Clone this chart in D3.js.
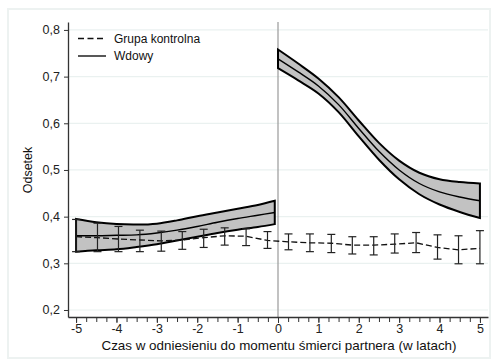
<!DOCTYPE html>
<html>
<head>
<meta charset="utf-8">
<script src="https://cdn.jsdelivr.net/npm/d3@7"></script>
<style>
  html, body { margin: 0; padding: 0; background: #fff; }
  svg { display: block; font-family: "Liberation Sans", Arial, sans-serif; }
</style>
</head>
<body>
<svg id="chart" width="493" height="361"></svg>
<script>
// Widows: smoothed share with confidence band, before and after the partner's death
const widowBeforeT   = [-5, -4.5, -4, -3.5, -3, -2.5, -2, -1.5, -1, -0.5, -0.08];
const widowBeforeMid = [0.359, 0.359, 0.360, 0.361, 0.365, 0.371, 0.379, 0.388, 0.396, 0.403, 0.409];
const widowBeforeHi  = [0.395, 0.388, 0.384, 0.383, 0.385, 0.392, 0.401, 0.409, 0.417, 0.425, 0.434];
const widowBeforeLo  = [0.325, 0.328, 0.330, 0.335, 0.341, 0.349, 0.357, 0.365, 0.372, 0.378, 0.384];

const widowAfterT   = [0, 0.5, 1, 1.5, 2, 2.5, 3, 3.5, 4, 4.5, 5];
const widowAfterMid = [0.738, 0.710, 0.680, 0.640, 0.589, 0.540, 0.500, 0.471, 0.453, 0.442, 0.434];
const widowAfterHi  = [0.758, 0.728, 0.696, 0.656, 0.606, 0.558, 0.520, 0.494, 0.480, 0.474, 0.471];
const widowAfterLo  = [0.718, 0.692, 0.664, 0.624, 0.572, 0.522, 0.480, 0.448, 0.426, 0.410, 0.397];

// Control group: point estimates with 95% intervals
const controlT   = [-5, -4.47, -3.95, -3.42, -2.89, -2.37, -1.84, -1.32, -0.79, -0.26,
                    0.26, 0.79, 1.32, 1.84, 2.37, 2.89, 3.42, 3.95, 4.47, 5];
const controlMid = [0.357, 0.355, 0.352, 0.350, 0.348, 0.350, 0.355, 0.359, 0.358, 0.349,
                    0.346, 0.344, 0.343, 0.339, 0.339, 0.341, 0.344, 0.334, 0.329, 0.332];
const controlHi  = [0.394, 0.386, 0.379, 0.371, 0.369, 0.368, 0.373, 0.376, 0.374, 0.368,
                    0.363, 0.363, 0.362, 0.357, 0.357, 0.363, 0.366, 0.361, 0.359, 0.370];
const controlLo  = [0.325, 0.325, 0.325, 0.325, 0.326, 0.330, 0.334, 0.339, 0.338, 0.332,
                    0.329, 0.325, 0.323, 0.320, 0.318, 0.322, 0.323, 0.309, 0.299, 0.299];

const yTicks = [0.2, 0.3, 0.4, 0.5, 0.6, 0.7, 0.8];
const xTicks = [-5, -4, -3, -2, -1, 0, 1, 2, 3, 4, 5];
const xMinorTicks = d3.range(-5, 5.001, 0.25);
const legendLabels = ["Grupa kontrolna", "Wdowy"];
const xTitle = "Czas w odniesieniu do momentu śmierci partnera (w latach)";
const yTitle = "Odsetek";

const svg = d3.select("#chart");

// outer frame
svg.append("rect").attr("x", 8).attr("y", 9).attr("width", 482).attr("height", 349)
  .attr("fill", "#fff").attr("stroke", "#edf2f1").attr("stroke-width", 2);

const x = d3.scaleLinear().domain([-5.2, 5.2]).range([68, 488]);
const y = d3.scaleLinear().domain([0.185, 0.817]).range([317, 22]);

// gridlines
svg.append("g").selectAll("line").data(yTicks).join("line")
  .attr("x1", 68).attr("x2", 488)
  .attr("y1", d => y(d)).attr("y2", d => y(d))
  .attr("stroke", "#eaf1f0").attr("stroke-width", 1.2);

// vertical reference line at the time of death
svg.append("line")
  .attr("x1", x(0)).attr("x2", x(0)).attr("y1", 22).attr("y2", 317)
  .attr("stroke", "#999").attr("stroke-width", 1.2);

// widow bands
function drawBand(t, lo, hi, mid) {
  const pts = t.map((d, i) => ({ t: d, lo: lo[i], hi: hi[i], mid: mid[i] }));
  const curve = d3.curveCatmullRom.alpha(0.5);
  const area = d3.area().x(d => x(d.t)).y0(d => y(d.lo)).y1(d => y(d.hi)).curve(curve);
  svg.append("path").datum(pts).attr("d", area)
    .attr("fill", "#c2c2c2").attr("stroke", "#000").attr("stroke-width", 2)
    .attr("stroke-linejoin", "miter");
  const line = d3.line().x(d => x(d.t)).y(d => y(d.mid)).curve(curve);
  svg.append("path").datum(pts).attr("d", line)
    .attr("fill", "none").attr("stroke", "#000").attr("stroke-width", 1.4);
}
drawBand(widowBeforeT, widowBeforeLo, widowBeforeHi, widowBeforeMid);
drawBand(widowAfterT, widowAfterLo, widowAfterHi, widowAfterMid);

// control group: dashed line and error bars
const ctrl = controlT.map((d, i) => ({ t: d, mid: controlMid[i], lo: controlLo[i], hi: controlHi[i] }));
svg.append("path").datum(ctrl)
  .attr("d", d3.line().x(d => x(d.t)).y(d => y(d.mid)))
  .attr("fill", "none").attr("stroke", "#111").attr("stroke-width", 1.3)
  .attr("stroke-dasharray", "6,3");

const eb = svg.append("g").attr("stroke", "#222").attr("stroke-width", 1.2);
eb.selectAll("line.v").data(ctrl).join("line").attr("class", "v")
  .attr("x1", d => x(d.t)).attr("x2", d => x(d.t))
  .attr("y1", d => y(d.lo)).attr("y2", d => y(d.hi));
eb.selectAll("line.t").data(ctrl).join("line").attr("class", "t")
  .attr("x1", d => x(d.t) - 4).attr("x2", d => x(d.t) + 4)
  .attr("y1", d => y(d.hi)).attr("y2", d => y(d.hi));
eb.selectAll("line.b").data(ctrl).join("line").attr("class", "b")
  .attr("x1", d => x(d.t) - 4).attr("x2", d => x(d.t) + 4)
  .attr("y1", d => y(d.lo)).attr("y2", d => y(d.lo));

// axes
const fmt = d => d3.format(".1f")(d).replace(".", ",");
const yAxis = svg.append("g").attr("transform", "translate(68,0)")
  .call(d3.axisLeft(y).tickValues(yTicks).tickFormat(fmt).tickSize(4).tickSizeOuter(0));
yAxis.select(".domain").attr("stroke", "#333").attr("stroke-width", 1.3);
yAxis.selectAll(".tick line").attr("stroke", "#333");
yAxis.selectAll("text").attr("font-size", 12.5).attr("fill", "#222").attr("dx", "-1");

const xMinor = svg.append("g").attr("transform", "translate(0,317)")
  .call(d3.axisBottom(x).tickValues(xMinorTicks).tickFormat("").tickSize(5).tickSizeOuter(0));
xMinor.select(".domain").attr("stroke", "#333").attr("stroke-width", 1.3);
xMinor.selectAll(".tick line").attr("stroke", "#333");

const xAxis = svg.append("g").attr("transform", "translate(0,317)")
  .call(d3.axisBottom(x).tickValues(xTicks).tickFormat(d => String(d)).tickSize(6).tickSizeOuter(0));
xAxis.select(".domain").remove();
xAxis.selectAll(".tick line").attr("stroke", "#333");
xAxis.selectAll("text").attr("font-size", 12.5).attr("fill", "#222")
  .attr("y", 8).attr("dy", "0.66em");

// axis titles
svg.append("text").attr("x", 279).attr("y", 349.5).attr("text-anchor", "middle")
  .attr("font-size", 13.4).attr("fill", "#111").text(xTitle);
svg.append("text").attr("transform", "translate(32,170) rotate(-90)")
  .attr("text-anchor", "middle").attr("font-size", 12.5).attr("fill", "#111").text(yTitle);

// legend
const legend = svg.append("g");
legend.append("line").attr("x1", 78).attr("x2", 106).attr("y1", 38.5).attr("y2", 38.5)
  .attr("stroke", "#111").attr("stroke-width", 1.4).attr("stroke-dasharray", "6,3.5");
legend.append("line").attr("x1", 78).attr("x2", 106).attr("y1", 56).attr("y2", 56)
  .attr("stroke", "#111").attr("stroke-width", 1.4);
legend.selectAll("text").data(legendLabels).join("text")
  .attr("x", 114).attr("y", (d, i) => 43 + i * 17)
  .attr("font-size", 12).attr("fill", "#111").text(d => d);
</script>
</body>
</html>
